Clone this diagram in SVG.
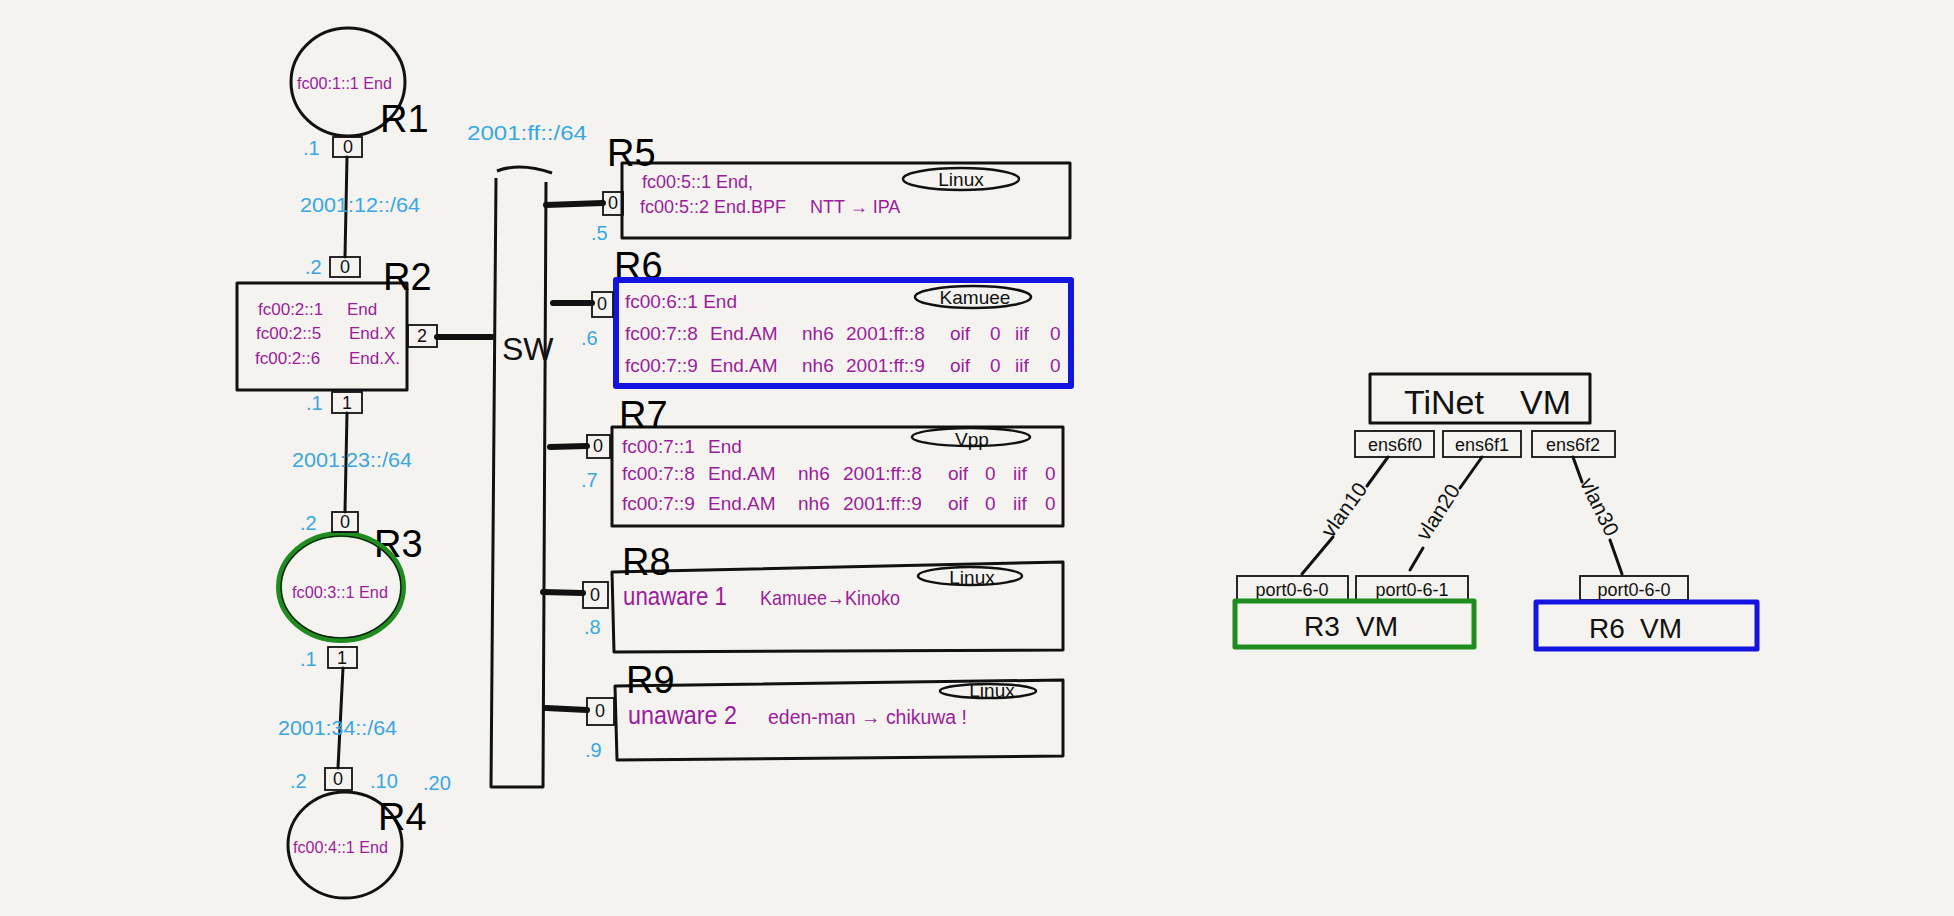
<svg xmlns="http://www.w3.org/2000/svg" width="1954" height="916" viewBox="0 0 1954 916">
<style>
text{font-family:"Liberation Sans","Noto Sans",sans-serif}
.bg{fill:#f4f3ef}
.ln{stroke:#111;stroke-width:3;fill:none;stroke-linecap:round;stroke-linejoin:round}
.thk{stroke:#111;stroke-width:6;fill:none;stroke-linecap:round}
.box{stroke:#111;stroke-width:3;fill:none;stroke-linejoin:round}
.port{stroke:#111;stroke-width:1.8;fill:none}
.pt{font-size:18px;fill:#111;text-anchor:middle}
.rl{font-size:38px;fill:#000}
.pu{fill:#9b1d9b}
.bl{fill:#3aa7e0;font-size:20px}
.blk{fill:#111}
.ell{stroke:#111;stroke-width:2.5;fill:none}
.et{font-size:19px;fill:#111;text-anchor:middle}
</style>
<rect class="bg" x="0" y="0" width="1954" height="916"/>

<g id="connectors">
  <path class="ln" d="M347 157 L345 257"/>
  <path class="ln" d="M347 413 L345 512"/>
  <path class="ln" d="M343 668 L338 768"/>
  <path class="thk" d="M437 337 L492 337"/>
  <path class="thk" d="M546 205 L603 203"/>
  <path class="thk" d="M553 303 L592 303"/>
  <path class="thk" d="M550 447 L587 446"/>
  <path class="thk" d="M543 592 L583 593"/>
  <path class="thk" d="M546 708 L587 710"/>
  <path class="ln" d="M1388 457 L1367 486"/>
  <path class="ln" d="M1333 537 L1302 574"/>
  <path class="ln" d="M1482 457 L1460 488"/>
  <path class="ln" d="M1423 548 L1410 570"/>
  <path class="ln" d="M1573 457 L1582 482"/>
  <path class="ln" d="M1610 540 L1622 574"/>
  <text class="blk" font-size="21" transform="translate(1350 514) rotate(-54)" text-anchor="middle">vlan10</text>
  <text class="blk" font-size="21" transform="translate(1444 516) rotate(-57)" text-anchor="middle">vlan20</text>
  <text class="blk" font-size="21" transform="translate(1593 510) rotate(64)" text-anchor="middle">vlan30</text>
</g>

<g id="subnets">
  <text class="bl" x="467" y="140" textLength="120" lengthAdjust="spacingAndGlyphs">2001:ff::/64</text>
  <text class="bl" x="300" y="212" textLength="120" lengthAdjust="spacingAndGlyphs">2001:12::/64</text>
  <text class="bl" x="292" y="467" textLength="120" lengthAdjust="spacingAndGlyphs">2001:23::/64</text>
  <text class="bl" x="278" y="735" textLength="119" lengthAdjust="spacingAndGlyphs">2001:34::/64</text>
</g>

<g id="R1">
  <ellipse class="ln" cx="348" cy="82" rx="57" ry="54"/>
  <text class="pu" x="297" y="89" font-size="16" textLength="95" lengthAdjust="spacingAndGlyphs">fc00:1::1 End</text>
  <text class="rl" x="380" y="132">R1</text>
  <rect class="port" x="333" y="137" width="29" height="20"/>
  <text class="pt" x="348" y="153">0</text>
  <text class="bl" x="303" y="155">.1</text>
</g>

<g id="R2">
  <rect class="box" x="237" y="283" width="170" height="107"/>
  <text class="rl" x="383" y="290">R2</text>
  <text class="pu" font-size="17"><tspan x="258" y="315">fc00:2::1</tspan><tspan x="347" y="315">End</tspan><tspan x="256" y="339">fc00:2::5</tspan><tspan x="349" y="339">End.X</tspan><tspan x="255" y="364">fc00:2::6</tspan><tspan x="349" y="364">End.X.</tspan></text>
  <rect class="port" x="330" y="257" width="30" height="20"/>
  <text class="pt" x="345" y="273">0</text>
  <text class="bl" x="305" y="274">.2</text>
  <rect class="port" x="408" y="325" width="29" height="22"/>
  <text class="pt" x="422" y="342">2</text>
  <rect class="port" x="332" y="392" width="30" height="21"/>
  <text class="pt" x="347" y="409">1</text>
  <text class="bl" x="306" y="410">.1</text>
</g>

<g id="R3">
  <text class="rl" x="374" y="557">R3</text>
  <ellipse cx="341" cy="587" rx="62" ry="53" fill="none" stroke="#1f8c1f" stroke-width="6"/>
  <ellipse cx="341" cy="587" rx="60" ry="51" fill="none" stroke="#111" stroke-width="1.2"/>
  <text class="pu" x="292" y="598" font-size="16" textLength="96" lengthAdjust="spacingAndGlyphs">fc00:3::1 End</text>
  <rect class="port" x="332" y="512" width="26" height="20"/>
  <text class="pt" x="345" y="528">0</text>
  <text class="bl" x="300" y="530">.2</text>
  <rect class="port" x="328" y="647" width="29" height="21"/>
  <text class="pt" x="342" y="664">1</text>
  <text class="bl" x="300" y="666">.1</text>
</g>

<g id="R4">
  <ellipse class="ln" cx="345" cy="845" rx="57" ry="53"/>
  <text class="rl" x="378" y="830">R4</text>
  <text class="pu" x="293" y="853" font-size="16" textLength="95" lengthAdjust="spacingAndGlyphs">fc00:4::1 End</text>
  <rect class="port" x="325" y="768" width="27" height="22"/>
  <text class="pt" x="338" y="785">0</text>
  <text class="bl" x="290" y="788">.2</text>
  <text class="bl" x="370" y="788">.10</text>
  <text class="bl" x="423" y="790">.20</text>
</g>

<g id="SW">
  <path class="box" d="M497 171 Q520 162 552 173"/>
  <path class="box" d="M496 178 L491 787 L543 787 L546 182"/>
  <text class="blk" x="502" y="360" font-size="32">SW</text>
</g>

<g id="R5">
  <rect class="box" x="622" y="163" width="448" height="75"/>
  <text class="rl" x="607" y="166">R5</text>
  <ellipse class="ell" cx="961" cy="179" rx="58" ry="11"/>
  <text class="et" x="961" y="186" font-size="20">Linux</text>
  <text class="pu" font-size="18"><tspan x="642" y="188">fc00:5::1 End,</tspan><tspan x="640" y="213">fc00:5::2 End.BPF</tspan><tspan x="810" y="213">NTT → IPA</tspan></text>
  <rect class="port" x="603" y="192" width="20" height="23"/>
  <text class="pt" x="613" y="209">0</text>
  <text class="bl" x="591" y="240">.5</text>
</g>

<g id="R6">
  <text class="rl" x="614" y="279">R6</text>
  <rect x="616" y="280" width="455" height="106" fill="#f4f3ef" stroke="#1414e0" stroke-width="6" stroke-linejoin="round"/>
  <ellipse class="ell" cx="973" cy="297" rx="58" ry="11"/>
  <text class="et" x="975" y="304" font-size="20">Kamuee</text>
  <text class="pu" font-size="19"><tspan x="625" y="308">fc00:6::1 End</tspan><tspan x="625" y="340">fc00:7::8</tspan><tspan x="710" y="340">End.AM</tspan><tspan x="802" y="340">nh6</tspan><tspan x="846" y="340">2001:ff::8</tspan><tspan x="950" y="340">oif</tspan><tspan x="990" y="340">0</tspan><tspan x="1015" y="340">iif</tspan><tspan x="1050" y="340">0</tspan><tspan x="625" y="372">fc00:7::9</tspan><tspan x="710" y="372">End.AM</tspan><tspan x="802" y="372">nh6</tspan><tspan x="846" y="372">2001:ff::9</tspan><tspan x="950" y="372">oif</tspan><tspan x="990" y="372">0</tspan><tspan x="1015" y="372">iif</tspan><tspan x="1050" y="372">0</tspan></text>
  <rect class="port" x="592" y="292" width="21" height="25"/>
  <text class="pt" x="602" y="310">0</text>
  <text class="bl" x="581" y="345">.6</text>
</g>

<g id="R7">
  <rect class="box" x="612" y="427" width="451" height="99"/>
  <text class="rl" x="619" y="428">R7</text>
  <ellipse class="ell" cx="971" cy="437" rx="59" ry="9"/>
  <text class="et" x="972" y="446" font-size="20">Vpp</text>
  <text class="pu" font-size="19"><tspan x="622" y="453">fc00:7::1</tspan><tspan x="708" y="453">End</tspan><tspan x="622" y="480">fc00:7::8</tspan><tspan x="708" y="480">End.AM</tspan><tspan x="798" y="480">nh6</tspan><tspan x="843" y="480">2001:ff::8</tspan><tspan x="948" y="480">oif</tspan><tspan x="985" y="480">0</tspan><tspan x="1013" y="480">iif</tspan><tspan x="1045" y="480">0</tspan><tspan x="622" y="510">fc00:7::9</tspan><tspan x="708" y="510">End.AM</tspan><tspan x="798" y="510">nh6</tspan><tspan x="843" y="510">2001:ff::9</tspan><tspan x="948" y="510">oif</tspan><tspan x="985" y="510">0</tspan><tspan x="1013" y="510">iif</tspan><tspan x="1045" y="510">0</tspan></text>
  <rect class="port" x="587" y="435" width="23" height="23"/>
  <text class="pt" x="598" y="452">0</text>
  <text class="bl" x="581" y="487">.7</text>
</g>

<g id="R8">
  <path class="box" d="M612 572 L1063 562 L1063 650 L614 652 Z"/>
  <text class="rl" x="622" y="575">R8</text>
  <ellipse class="ell" cx="970" cy="576" rx="52" ry="9"/>
  <text class="et" x="972" y="584">Linux</text>
  <text class="pu" x="623" y="605" font-size="25" textLength="104" lengthAdjust="spacingAndGlyphs">unaware 1</text>
  <text class="pu" x="760" y="605" font-size="21" textLength="140" lengthAdjust="spacingAndGlyphs">Kamuee→Kinoko</text>
  <rect class="port" x="583" y="582" width="25" height="26"/>
  <text class="pt" x="595" y="601">0</text>
  <text class="bl" x="584" y="634">.8</text>
</g>

<g id="R9">
  <path class="box" d="M615 686 L1063 680 L1063 756 L617 760 Z"/>
  <text class="rl" x="626" y="693">R9</text>
  <ellipse class="ell" cx="988" cy="691" rx="48" ry="7"/>
  <text class="et" x="992" y="697" font-size="16">Linux</text>
  <text class="pu" x="628" y="724" font-size="25" textLength="109" lengthAdjust="spacingAndGlyphs">unaware 2</text>
  <text class="pu" x="768" y="724" font-size="20" textLength="199" lengthAdjust="spacingAndGlyphs">eden-man → chikuwa !</text>
  <rect class="port" x="587" y="698" width="27" height="27"/>
  <text class="pt" x="600" y="717">0</text>
  <text class="bl" x="585" y="757">.9</text>
</g>

<g id="TiNetVM">
  <rect class="box" x="1370" y="374" width="220" height="49"/>
  <text class="blk" font-size="34"><tspan x="1404" y="414">TiNet</tspan><tspan x="1520" y="414">VM</tspan></text>
  <rect class="port" x="1355" y="431" width="79" height="26"/>
  <text class="pt" x="1395" y="451" font-size="20">ens6f0</text>
  <rect class="port" x="1443" y="431" width="78" height="26"/>
  <text class="pt" x="1482" y="451" font-size="20">ens6f1</text>
  <rect class="port" x="1532" y="431" width="83" height="26"/>
  <text class="pt" x="1573" y="451" font-size="20">ens6f2</text>
</g>

<g id="R3VM">
  <rect class="port" x="1237" y="576" width="111" height="24"/>
  <text class="pt" x="1292" y="596" font-size="20">port0-6-0</text>
  <rect class="port" x="1356" y="576" width="112" height="24"/>
  <text class="pt" x="1412" y="596" font-size="20">port0-6-1</text>
  <rect x="1235" y="601" width="239" height="46" fill="none" stroke="#1f8c1f" stroke-width="5" stroke-linejoin="round"/>
  <text class="blk" font-size="28"><tspan x="1304" y="636">R3</tspan><tspan x="1356" y="636">VM</tspan></text>
</g>

<g id="R6VM">
  <rect class="port" x="1580" y="576" width="108" height="24"/>
  <text class="pt" x="1634" y="596" font-size="20">port0-6-0</text>
  <rect x="1536" y="602" width="221" height="47" fill="none" stroke="#1414e0" stroke-width="5" stroke-linejoin="round"/>
  <text class="blk" font-size="28"><tspan x="1589" y="638">R6</tspan><tspan x="1640" y="638">VM</tspan></text>
</g>
</svg>
